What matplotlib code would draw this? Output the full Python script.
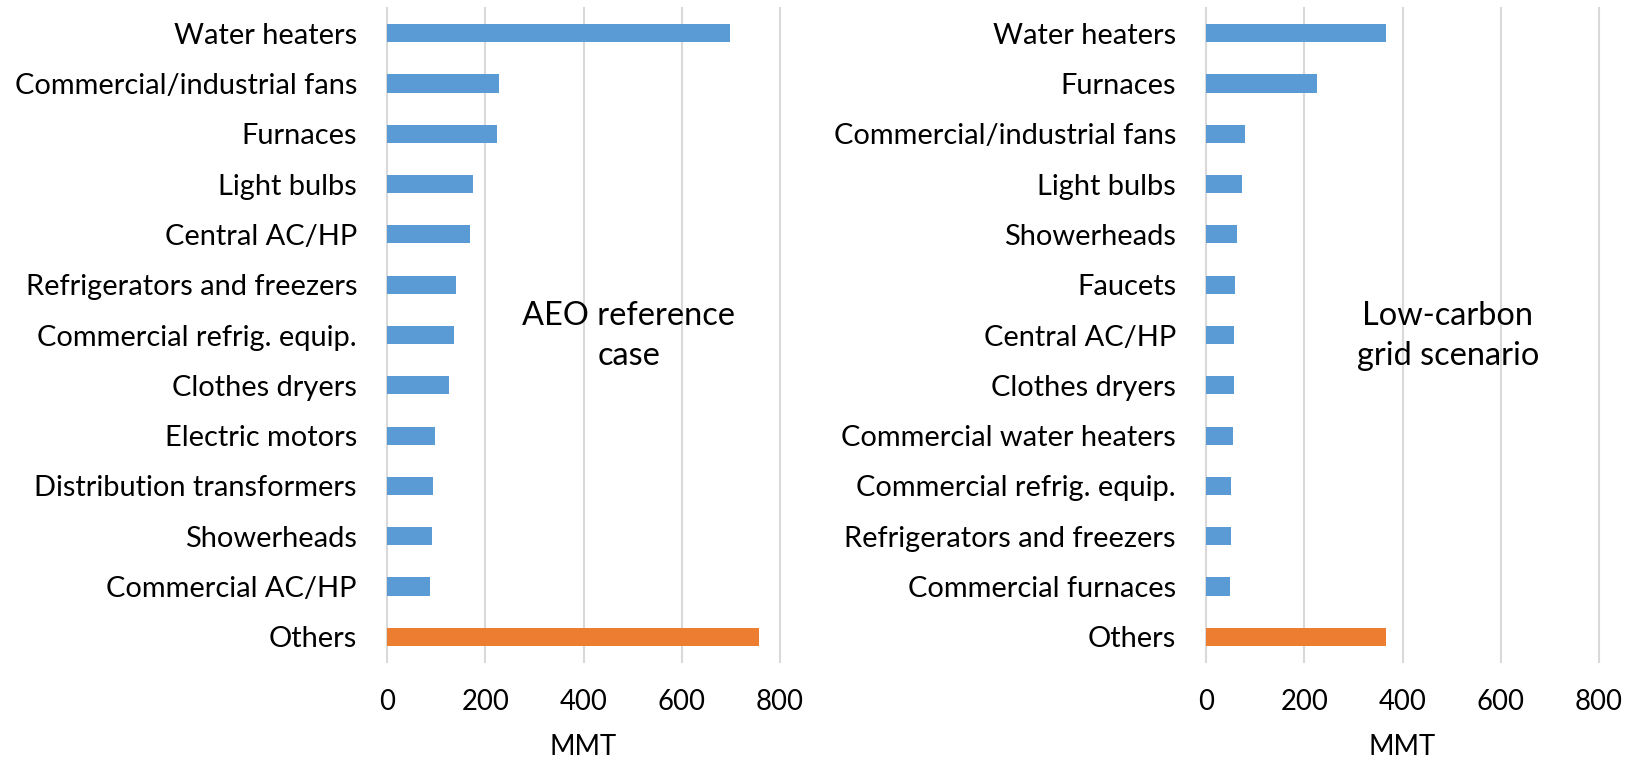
import matplotlib
matplotlib.use('Agg')
import matplotlib.pyplot as plt

left_categories = ["Water heaters", "Commercial/industrial fans", "Furnaces", "Light bulbs",
                   "Central AC/HP", "Refrigerators and freezers", "Commercial refrig. equip.",
                   "Clothes dryers", "Electric motors", "Distribution transformers",
                   "Showerheads", "Commercial AC/HP", "Others"]
left_values = [698, 229, 223, 176, 168, 140, 136, 126, 98, 94, 91, 87, 757]

right_categories = ["Water heaters", "Furnaces", "Commercial/industrial fans", "Light bulbs",
                    "Showerheads", "Faucets", "Central AC/HP", "Clothes dryers",
                    "Commercial water heaters", "Commercial refrig. equip.",
                    "Refrigerators and freezers", "Commercial furnaces", "Others"]
right_values = [367, 226, 79, 74, 64, 60, 58, 56, 54, 50, 50, 48, 366]

x_ticks = [0, 200, 400, 600, 800]
x_label = "MMT"
left_note = "AEO reference\ncase"
right_note = "Low-carbon\ngrid scenario"

BLUE = "#5B9BD5"
ORANGE = "#ED7D31"
GRID = "#D9D9D9"
FAMILY = "Lato"

W, H = 1634, 760
fig = plt.figure(figsize=(W / 100, H / 100), dpi=100)
renderer = fig.canvas.get_renderer()


def fit(text, target_px, base=20):
    t = fig.text(0, 0, text, fontsize=base, family=FAMILY)
    w = t.get_window_extent(renderer).width
    t.remove()
    return base * target_px / w


label_fs = fit("Commercial/industrial fans", 344)
tick_fs = fit("800", 48)
note_fs = fit("AEO reference", 213)


def panel(x0_px, cats, vals, note):
    ax = fig.add_axes([x0_px / W, (H - 662) / H, 393 / W, 654 / H])
    n = len(cats)
    colors = [ORANGE if c == "Others" else BLUE for c in cats]
    ax.barh(range(n), vals, height=0.36, color=colors, zorder=3)
    ax.set_ylim(n - 0.5, -0.5)
    ax.set_xlim(0, 800)
    ax.set_yticks(range(n))
    ax.set_yticklabels(cats, fontsize=label_fs, family=FAMILY, color="black")
    ax.set_xticks(x_ticks)
    ax.set_xticklabels([str(v) for v in x_ticks], fontsize=tick_fs, family=FAMILY, color="black")
    for lbl in ax.get_xticklabels():
        lbl.set_va("center")
    ax.tick_params(axis="y", length=0, pad=30 * 0.72)
    ax.tick_params(axis="x", length=0, pad=40 * 0.72)
    for s in ax.spines.values():
        s.set_visible(False)
    ax.grid(axis="x", color=GRID, linewidth=1.5, zorder=0)
    ax.grid(axis="y", visible=False)
    for gl in ax.get_xgridlines():
        gl.set_clip_on(False)
    ax.set_axisbelow(True)
    ax.text(0.615, 0.499, note, transform=ax.transAxes, ha="center", va="center",
            multialignment="center", fontsize=note_fs, family=FAMILY, linespacing=1.42,
            color="black", zorder=5)
    fig.text((x0_px + 196.5) / W, 1 - 747 / H, x_label, ha="center", va="center",
             fontsize=tick_fs, family=FAMILY, color="black")
    return ax


panel(387, left_categories, left_values, left_note)
panel(1206, right_categories, right_values, right_note)

fig.savefig("out.png", dpi=100, facecolor="white")
